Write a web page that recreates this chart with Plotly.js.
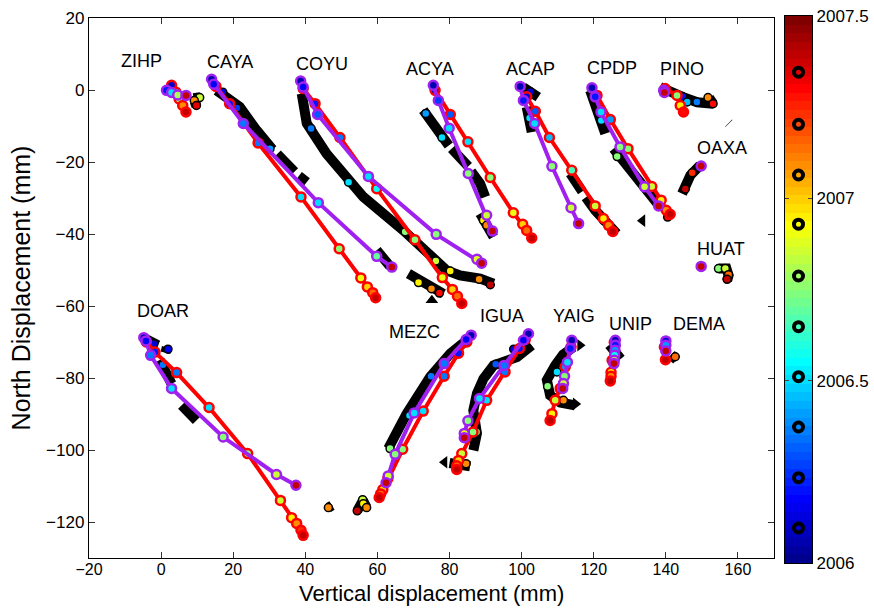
<!DOCTYPE html>
<html><head><meta charset="utf-8">
<script src="https://cdn.plot.ly/plotly-3.0.1.min.js"></script>
<style>html,body{margin:0;padding:0;background:#fff}#chart{width:874px;height:608px}</style>
</head><body><div id="chart"></div>
<script>
// ---------- DATA (mm, decimal year) ----------
const stationNames = ["ZIHP","CAYA","COYU","ACYA","ACAP","CPDP","PINO","OAXA","HUAT","DOAR","MEZC","IGUA","YAIG","UNIP","DEMA"];
const labelX = [-5.4,19.1,44.5,74.6,102.4,125.0,144.5,155.6,155.3,0.6,70.2,94.5,114.4,130.3,149.1];
const labelY = [8.1,7.8,7.1,5.9,5.9,6.2,5.9,-16.1,-44.1,-61.4,-67.2,-62.8,-62.8,-64.9,-65.1];

// red model: [east, north, time]
const RED_ZIHP = [[2.9,1.3,2006.1],[4.1,-0.6,2006.5],[5.0,-2.5,2006.8],[6.0,-4.3,2007.1],[6.9,-6.1,2007.4]];
const RED_CAYA = [[15.2,1.0,2006.1],[19.0,-3.8,2006.2],[26.9,-14.7,2006.35],[38.8,-29.7,2006.5],[49.4,-44.1,2006.75],[55.4,-52.2,2006.9],[57.2,-54.7,2007.0],[58.7,-56.3,2007.15],[59.5,-57.7,2007.4]];
const RED_COYU = [[39.4,0.4,2006.1],[42.7,-3.8,2006.2],[49.6,-13.2,2006.35],[59.8,-27.4,2006.55],[70.4,-41.6,2006.75],[78.0,-52.1,2006.9],[80.8,-55.4,2007.0],[82.2,-57.3,2007.15],[83.4,-59.3,2007.4]];
const RED_ACYA = [[76.0,-0.1,2006.1],[80.2,-6.8,2006.3],[85.1,-14.4,2006.5],[91.3,-24.3,2006.75],[97.7,-34.1,2006.9],[100.3,-37.3,2007.0],[101.4,-39.0,2007.15],[102.8,-41.1,2007.4]];
const RED_ACAP = [[101.4,-1.9,2006.1],[103.8,-5.9,2006.3],[107.7,-13.2,2006.45],[113.9,-22.3,2006.65],[120.4,-32.2,2006.85],[122.7,-35.7,2006.95],[124.1,-37.6,2007.1],[125.3,-39.3,2007.4]];
const RED_CPDP = [[120.9,-1.5,2006.1],[124.6,-8.2,2006.4],[129.5,-16.3,2006.75],[136.1,-26.8,2006.85],[138.7,-30.6,2006.95],[140.1,-33.4,2007.1],[141.2,-34.5,2007.4]];
const RED_PINO = [[139.8,0.4,2006.1],[143.1,-1.5,2006.75],[144.0,-4.3,2006.95],[144.9,-6.1,2007.3]];
const RED_DOAR = [[-4.1,-70.0,2006.1],[-1.7,-72.8,2006.2],[4.3,-78.5,2006.35],[13.3,-88.2,2006.5],[24.0,-101.0,2006.75],[33.1,-114.0,2006.85],[36.2,-118.8,2006.95],[37.6,-120.4,2007.1],[38.8,-122.3,2007.25],[39.4,-123.7,2007.4]];
const RED_MEZC = [[84.8,-70.0,2006.1],[82.5,-73.1,2006.2],[78.5,-79.5,2006.35],[72.7,-89.2,2006.5],[67.0,-99.8,2006.75],[62.9,-107.9,2006.85],[61.5,-111.0,2007.0],[60.9,-112.2,2007.15],[60.5,-113.2,2007.4]];
const RED_IGUA = [[101.0,-69.3,2006.1],[99.4,-71.8,2006.2],[95.4,-78.3,2006.35],[90.3,-86.2,2006.5],[86.5,-95.0,2006.75],[83.4,-101.0,2006.85],[82.5,-102.9,2007.0],[82.0,-104.4,2007.15],[82.0,-105.4,2007.4]];
const RED_YAIG = [[113.7,-71.4,2006.15],[112.1,-76.9,2006.4],[110.7,-82.9,2006.75],[109.3,-86.2,2006.85],[108.4,-89.9,2006.95],[107.9,-91.8,2007.4]];
const RED_UNIP = [[125.7,-70.1,2006.1],[125.1,-75.1,2006.6],[124.8,-78.4,2006.95],[124.8,-79.5,2007.1],[124.6,-80.8,2007.4]];
const RED_DEMA = [[139.6,-71.4,2006.5],[139.9,-74.9,2007.4]];

// purple model: [east, north, time]
const PUR_ZIHP = [[1.5,-0.1,2006.2],[2.9,-0.7,2006.5],[4.6,-1.4,2006.8],[6.9,-1.5,2007.4]];
const PUR_CAYA = [[14.0,3.0,2006.05],[14.6,1.6,2006.15],[22.8,-9.3,2006.35],[43.6,-31.3,2006.5],[59.8,-46.2,2006.7],[64.0,-49.2,2007.4]];
const PUR_COYU = [[38.7,2.5,2006.05],[39.4,0.8,2006.15],[43.4,-6.8,2006.3],[57.5,-24.0,2006.5],[76.3,-40.1,2006.75],[87.6,-47.0,2006.88],[88.9,-48.1,2007.4]];
const PUR_ACYA = [[75.5,1.3,2006.05],[76.9,-2.9,2006.25],[79.9,-10.6,2006.5],[85.2,-23.2,2006.75],[90.3,-34.8,2006.85],[91.9,-39.2,2007.4]];
const PUR_ACAP = [[99.6,1.0,2006.05],[100.5,-2.9,2006.2],[103.6,-9.3,2006.5],[108.4,-21.2,2006.75],[113.7,-32.7,2006.85],[115.8,-37.1,2007.4]];
const PUR_CPDP = [[119.5,0.6,2006.05],[120.4,-1.9,2006.2],[122.0,-6.1,2006.5],[127.3,-15.8,2006.75],[134.1,-26.9,2006.85],[138.0,-32.2,2007.4]];
const PUR_PINO = [[139.4,-0.1,2006.1],[139.6,-0.7,2007.4]];
const PUR_OAXA = [[149.8,-21.1,2007.4]];
const PUR_HUAT = [[149.8,-49.0,2007.4]];
const PUR_DOAR = [[-4.8,-68.8,2006.05],[-4.2,-69.7,2006.15],[-2.9,-73.7,2006.35],[2.9,-82.9,2006.5],[17.2,-96.4,2006.75],[32.0,-106.8,2006.85],[37.4,-109.8,2007.4]];
const PUR_MEZC = [[86.0,-68.1,2006.05],[84.6,-69.3,2006.15],[78.5,-76.0,2006.35],[70.2,-89.7,2006.5],[64.9,-101.2,2006.75],[63.0,-107.2,2006.85],[62.4,-109.1,2007.4]];
const PUR_IGUA = [[101.9,-67.7,2006.05],[100.5,-69.5,2006.15],[95.1,-76.5,2006.35],[88.3,-85.7,2006.5],[85.1,-91.9,2006.75],[84.1,-95.4,2006.9],[84.1,-96.6,2007.4]];
const PUR_YAIG = [[113.9,-69.5,2006.05],[113.5,-71.8,2006.2],[112.7,-75.6,2006.5],[111.9,-79.5,2006.75],[111.6,-81.5,2006.85],[111.4,-82.9,2007.4]];
const PUR_UNIP = [[126.0,-69.5,2006.05],[126.0,-70.9,2006.2],[125.9,-72.3,2006.4],[125.8,-73.7,2006.55],[125.7,-75.1,2006.85],[125.6,-76.0,2007.4]];
const PUR_DEMA = [[140.0,-69.7,2006.1],[140.0,-70.9,2006.4],[140.0,-72.5,2007.4]];

// observed tracks: [east, north], null = gap
const TRK_ZIHP = [[9.0,-2.3],[10.9,-2.0],null,[9.3,-3.2],[9.8,-4.5]];
const TRK_CAYA = [[15.4,-0.1],[21.8,-4.7],[26.5,-11.2],[30.9,-16.5],null,[32.2,-17.8],[37.0,-22.7],null,[38.2,-23.9],[40.4,-25.6],null,[59.8,-44.5],[63.5,-49.0]];
const TRK_COYU = [[39.0,-1.0],[40.4,-9.3],[45.9,-17.7],[56.1,-29.7],[67.2,-39.0],[76.5,-47.3],[79.2,-50.1],[82.9,-51.5],[88.5,-52.4],[92.2,-53.8],null,[68.6,-51.0],[78.3,-56.6]];
const TRK_ACYA = [[72.7,-5.6],[77.8,-13.1],[79.8,-15.4],null,[80.6,-16.3],[85.2,-21.2],null,[86.0,-22.6],[88.5,-26.0],[89.9,-29.7],null,[88.5,-34.3],[92.2,-40.8]];
const TRK_ACAP = [[100.4,0.8],[104.6,-2.0],null,[101.4,-4.7],[102.8,-11.7],null,[113.5,-23.2],[116.8,-28.2],null,[117.8,-29.8],[120.4,-33.4],[126.4,-39.9]];
const TRK_CPDP = [[119.0,-0.1],[121.0,-5.6],[123.2,-12.1],null,[125.5,-16.3],[132.0,-25.0],[138.4,-32.5]];
const TRK_PINO = [[138.4,0.8],[141.5,-0.8],[144.8,-2.0],[148.7,-3.4],[153.1,-3.8],[152.0,-2.2]];
const TRK_OAXA = [[149.5,-20.9],[146.8,-23.7],[144.5,-28.8]];
const TRK_HUAT = [[154.6,-49.6],[156.8,-49.6],[157.4,-51.5],[157.0,-53.0]];
const TRK_DOAR = [[-5.1,-68.7],[-0.9,-70.9],null,[1.6,-71.5],[1.2,-73.0],null,[-0.4,-75.0],[2.9,-81.6],null,[5.7,-87.6],[9.8,-91.8]];
const TRK_MEZC = [[63.0,-99.6],[68.1,-89.9],[74.6,-79.7],[80.2,-73.2],[84.8,-69.5]];
const TRK_IGUA = [[102.8,-70.9],[98.7,-74.2],[92.2,-76.5],[89.4,-80.2],[87.6,-84.3],[86.6,-89.0],[87.6,-95.4],[86.6,-100.1],null,[85.7,-104.5],[80.0,-103.6]];
const TRK_YAIG = [[114.4,-71.4],[111.5,-73.5],[109.3,-76.5],[107.0,-80.6],[107.9,-84.8],[110.7,-86.8],[114.8,-87.6]];
const TRK_UNIP = [[124.3,-70.8],[125.5,-72.5],[127.5,-74.7]];
const TRK_DEMA = [[141.5,-73.5],[143.0,-75.0]];
const TRK_MISC = [[46.4,-116.0],[47.4,-115.4],null,[54.4,-116.9],[56.0,-114.0],[57.0,-116.0],null,[157.4,-9.2],[157.5,-9.3]];

// observed epochs on tracks: [east, north, time]
const DOT_ZIHP = [[10.7,-2.1,2006.85],[9.2,-2.9,2007.1],[9.8,-4.3,2007.35]];
const DOT_CAYA = [[17.1,-0.6,2006.15],[21.0,-5.0,2006.25],[30.2,-16.3,2006.4]];
const DOT_COYU = [[41.6,-10.7,2006.35],[52.0,-25.6,2006.5],[67.7,-39.4,2006.75],[76.2,-47.5,2006.85],[80.2,-50.3,2006.95],[88.2,-52.6,2007.1],[91.3,-54.1,2007.4],[71.4,-53.5,2006.95],[75.0,-55.2,2007.1],[77.2,-56.4,2007.3]];
const DOT_ACYA = [[73.4,-6.5,2006.4],[77.9,-13.2,2006.5],[89.4,-36.2,2006.95],[90.3,-37.6,2007.1],[91.5,-39.2,2007.4]];
const DOT_ACAP = [[102.4,-0.5,2006.1],[102.2,-7.8,2006.5],[119.9,-32.5,2006.85],[122.7,-36.2,2006.95],[125.0,-39.0,2007.3]];
const DOT_CPDP = [[122.1,-8.5,2006.5],[126.5,-18.5,2006.75],[138.0,-31.8,2007.05],[140.5,-35.3,2007.3]];
const DOT_PINO = [[144.7,-1.9,2006.2],[145.9,-3.3,2006.45],[148.6,-3.3,2006.35],[151.7,-2.1,2007.1],[153.1,-3.8,2007.3]];
const DOT_OAXA = [[147.3,-23.0,2007.25],[145.4,-27.5,2007.4]];
const DOT_HUAT = [[154.6,-49.6,2006.75],[156.5,-49.6,2006.85],[157.4,-51.3,2007.15],[157.0,-52.6,2007.4]];
const DOT_DOAR = [[-2.0,-70.5,2006.1],[1.9,-72.0,2006.15],[0.5,-76.3,2006.35]];
const DOT_MEZC = [[63.5,-99.6,2006.75],[68.9,-90.4,2006.5],[74.9,-79.5,2006.35],[81.8,-73.0,2006.2]];
const DOT_IGUA = [[97.8,-72.0,2006.15],[92.8,-76.2,2006.3],[88.0,-85.8,2006.5],[87.5,-95.0,2006.75],[82.0,-103.6,2007.3],[84.6,-103.8,2007.1]];
const DOT_YAIG = [[109.8,-78.3,2006.5],[107.2,-82.3,2006.75],[109.1,-86.0,2006.75],[111.6,-86.2,2007.1]];
const DOT_DEMA = [[142.6,-74.1,2007.15]];
const DOT_MISC = [[46.4,-116.0,2007.1],[55.9,-113.8,2006.85],[56.1,-114.9,2006.95],[57.0,-116.0,2007.1],[54.4,-116.9,2007.4]];

// arrow tips on observed tracks [east, north]
const TIPS = [[116.2,-70.9],[115.0,-87.2],[78.6,-103.4],[133.5,-36.3],[75.1,-58.4]];

// colour-bar epoch markers (decimal year)
const barMarks = [2006.096,2006.234,2006.373,2006.511,2006.648,2006.787,2006.929,2007.064,2007.203,2007.346];
const barTicks = [2006, 2006.5, 2007, 2007.5];
const tMin = 2006, tMax = 2007.5;

const xTicks = [-20,0,20,40,60,80,100,120,140,160];
const yTicks = [-120,-100,-80,-60,-40,-20,0,20];
const xTitle = 'Vertical displacement (mm)';
const yTitle = 'North Displacement (mm)';

// ---------- BUILD ----------
const JET = [[0,'rgb(0,0,143)'],[0.111,'rgb(0,0,255)'],[0.365,'rgb(0,255,255)'],[0.619,'rgb(255,255,0)'],[0.873,'rgb(255,0,0)'],[1,'rgb(128,0,0)']];
function flat(list){
  const x=[],y=[],t=[];
  list.forEach(arr=>{ arr.forEach(p=>{ if(p===null){x.push(null);y.push(null);t.push(null);} else {x.push(p[0]);y.push(p[1]);t.push(p.length>2?p[2]:null);} }); x.push(null);y.push(null);t.push(null); });
  return {x,y,t};
}
const RED = flat([RED_ZIHP,RED_CAYA,RED_COYU,RED_ACYA,RED_ACAP,RED_CPDP,RED_PINO,RED_DOAR,RED_MEZC,RED_IGUA,RED_YAIG,RED_UNIP,RED_DEMA]);
const PUR = flat([PUR_ZIHP,PUR_CAYA,PUR_COYU,PUR_ACYA,PUR_ACAP,PUR_CPDP,PUR_PINO,PUR_OAXA,PUR_HUAT,PUR_DOAR,PUR_MEZC,PUR_IGUA,PUR_YAIG,PUR_UNIP,PUR_DEMA]);
const TRK = flat([TRK_ZIHP,TRK_CAYA,TRK_COYU,TRK_ACYA,TRK_ACAP,TRK_CPDP,TRK_PINO,TRK_OAXA,TRK_HUAT,TRK_DOAR,TRK_MEZC,TRK_IGUA,TRK_YAIG,TRK_UNIP,TRK_DEMA,TRK_MISC]);
const DOT = flat([DOT_ZIHP,DOT_CAYA,DOT_COYU,DOT_ACYA,DOT_ACAP,DOT_CPDP,DOT_PINO,DOT_OAXA,DOT_HUAT,DOT_DOAR,DOT_MEZC,DOT_IGUA,DOT_YAIG,DOT_DEMA,DOT_MISC]);

const FONT = 'Liberation Sans, Arial, Helvetica, sans-serif';
const PURPLE = 'rgb(160,32,240)';

const traces = [
  {type:'scatter',mode:'lines',x:TRK.x,y:TRK.y,line:{color:'black',width:10},connectgaps:false,hoverinfo:'skip'},
  {type:'scatter',mode:'markers',x:TIPS.map(p=>p[0]),y:TIPS.map(p=>p[1]),
    marker:{symbol:['triangle-right','triangle-right','triangle-left','triangle-left','triangle-up'],size:11,color:'black'},hoverinfo:'skip'},
  {type:'scatter',mode:'markers',x:DOT.x,y:DOT.y,
    marker:{size:8,color:DOT.t,colorscale:JET,cmin:tMin,cmax:tMax,line:{color:'black',width:1.5}},hoverinfo:'skip'},
  {type:'scatter',mode:'lines+markers',x:RED.x,y:RED.y,connectgaps:false,line:{color:'red',width:4},
    marker:{size:9,color:RED.t,colorscale:JET,cmin:tMin,cmax:tMax,line:{color:'red',width:2.5}},hoverinfo:'skip'},
  {type:'scatter',mode:'lines+markers',x:PUR.x,y:PUR.y,connectgaps:false,line:{color:PURPLE,width:4},
    marker:{size:9,color:PUR.t,colorscale:JET,cmin:tMin,cmax:tMax,line:{color:PURPLE,width:2.5}},hoverinfo:'skip'}
];

// colour bar as heatmap (64 bands like MATLAB jet)
const nBands = 64, bandY=[], bandZ=[];
for(let i=0;i<nBands;i++){ bandY.push(tMin+(i+0.5)*(tMax-tMin)/nBands); bandZ.push([i]); }
traces.push({type:'heatmap',x:[0],y:bandY,z:bandZ,zmin:0,zmax:nBands-1,colorscale:JET,showscale:false,xaxis:'x2',yaxis:'y2',hoverinfo:'skip',zsmooth:false});
traces.push({type:'scatter',mode:'markers',x:barMarks.map(()=>0),y:barMarks,xaxis:'x2',yaxis:'y2',
  marker:{size:9,color:barMarks,colorscale:JET,cmin:tMin,cmax:tMax,line:{color:'black',width:4}},hoverinfo:'skip'});

const W=874,H=608,L=89,R=62,T=16,B=45;
const pw=W-L-R, ph=H-T-B;
const xDomEnd=(774-L)/pw;

const annotations = stationNames.map((s,i)=>({x:labelX[i],y:labelY[i],xref:'x',yref:'y',text:s,showarrow:false,
  font:{family:FONT,size:18,color:'black'},xanchor:'center',yanchor:'middle'}));
annotations.push({x:xDomEnd/2,y:-(607-(H-B))/ph,xref:'paper',yref:'paper',text:xTitle,showarrow:false,
  xanchor:'center',yanchor:'bottom',borderpad:0,font:{family:FONT,size:22,color:'black'}});

const layout = {
  width:W,height:H,margin:{l:L,r:R,t:T,b:B,pad:0},
  paper_bgcolor:'white',plot_bgcolor:'white',showlegend:false,
  font:{family:FONT,size:17,color:'black'},
  xaxis:{domain:[0,xDomEnd],range:[-20,170],tickvals:xTicks,ticktext:xTicks.map(v=>v<0?'\u2212'+Math.abs(v):String(v)),
    ticks:'inside',ticklen:6,tickcolor:'#333',mirror:'ticks',showline:true,linecolor:'black',linewidth:1.2,
    showgrid:false,zeroline:false,tickfont:{size:16},ticklabelstandoff:-3},
  yaxis:{domain:[(H-B-558)/ph,(H-B-18)/ph],range:[-130,20],tickvals:yTicks,ticktext:yTicks.map(v=>v<0?'\u2212'+Math.abs(v):String(v)),
    ticks:'inside',ticklen:6,tickcolor:'#333',mirror:'ticks',showline:true,linecolor:'black',linewidth:1.2,
    showgrid:false,zeroline:false,tickfont:{size:17},
    title:{text:yTitle,font:{size:25},standoff:8}},
  xaxis2:{domain:[(785-L)/pw,1],range:[-0.5,0.5],anchor:'y2',showticklabels:false,ticks:'',showgrid:false,zeroline:false,
    showline:true,mirror:true,linecolor:'black',linewidth:1.2},
  yaxis2:{domain:[0,1],range:[tMin,tMax],anchor:'x2',side:'right',tickvals:barTicks,ticktext:barTicks.map(String),
    ticks:'inside',ticklen:4,tickcolor:'#444',mirror:'ticks',showgrid:false,zeroline:false,
    showline:true,linecolor:'black',linewidth:1.2,tickfont:{size:17}},
  annotations
};
Plotly.newPlot('chart',traces,layout,{staticPlot:true,displayModeBar:false});
</script></body></html>
